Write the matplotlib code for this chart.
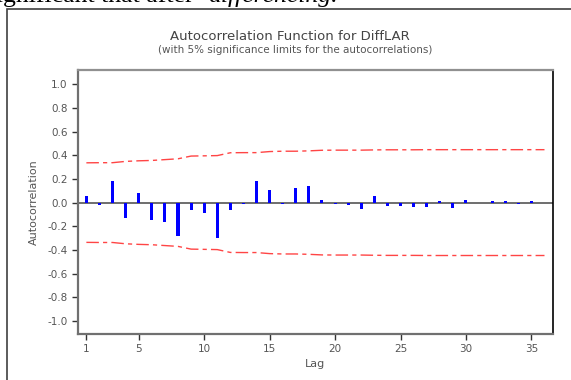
import matplotlib
matplotlib.use('Agg')
import matplotlib.pyplot as plt
from matplotlib.patches import Rectangle

# ACF values, lags 1..36
lags = list(range(1, 37))
acf = [0.054, -0.02, 0.18, -0.13, 0.08, -0.15, -0.16, -0.28, -0.06, -0.09,
       -0.295, -0.066, -0.012, 0.18, 0.105, -0.015, 0.12, 0.14, 0.02, -0.01,
       -0.02, -0.055, 0.055, -0.03, -0.025, -0.04, -0.04, 0.01, -0.045, 0.02,
       -0.005, 0.01, 0.01, -0.01, 0.012, -0.005]
# 5% significance limits (upper; lower is the mirror)
limit = [0.336, 0.337, 0.337, 0.348, 0.353, 0.356, 0.363, 0.370, 0.393, 0.395,
         0.397, 0.421, 0.422, 0.422, 0.431, 0.434, 0.434, 0.437, 0.442, 0.443,
         0.443, 0.443, 0.445, 0.446, 0.446, 0.446, 0.447, 0.447, 0.447, 0.447,
         0.447, 0.447, 0.447, 0.447, 0.447, 0.447]
xticks = [1, 5, 10, 15, 20, 25, 30, 35]
yticks = [-1.0, -0.8, -0.6, -0.4, -0.2, 0.0, 0.2, 0.4, 0.6, 0.8, 1.0]

W, H = 571, 380
fig = plt.figure(figsize=(W / 100, H / 100), dpi=100)
plt.rcParams['font.family'] = ['DejaVu Sans']

# outer frame of the pasted chart
fig.patches.append(Rectangle((7 / W, -0.1), 1.2, 1 - 9 / H + 0.1, transform=fig.transFigure,
                             fill=False, edgecolor='#404040', linewidth=1.2))

# clipped line of document text above the chart
fig.text(-0.025, 1 - 2 / H, 'significant that after ', family='Liberation Serif',
         fontsize=18.5, va='baseline', ha='left', color='black')
fig.text(208 / W, 1 - 2 / H, 'differencing.', family='Liberation Serif', style='italic',
         fontsize=18.5, va='baseline', ha='left', color='black')

ax = fig.add_axes([78 / W, 1 - 334 / H, (553 - 78) / W, (334 - 70) / H])
ax.bar(lags, acf, width=0.23, color='#0000ff', zorder=3)
ax.axhline(0, color='#555555', linewidth=1.2, zorder=2)
upper = limit
lower = [-v for v in limit]
ax.plot(lags, upper, color='#ff4545', linewidth=1, dashes=(9, 3, 3, 3))
ax.plot(lags, lower, color='#ff4545', linewidth=1, dashes=(9, 3, 3, 3))

ax.set_xlim(0.36, 36.65)
ax.set_ylim(-1.11, 1.12)
ax.set_xticks(xticks)
ax.set_yticks(yticks)
ax.set_yticklabels(['%.1f' % v for v in yticks])
ax.tick_params(direction='out', length=4, width=1, color='#333333',
               labelcolor='#555555', labelsize=7.5)

for s in ['left', 'bottom']:
    ax.spines[s].set_color('#707070')
    ax.spines[s].set_linewidth(1.6)
ax.spines['top'].set_color('#909090')
ax.spines['top'].set_linewidth(1.6)
ax.spines['right'].set_color('black')
ax.spines['right'].set_linewidth(1.2)

ax.set_xlabel('Lag', fontsize=8, color='#555555', labelpad=3)
ax.set_ylabel('Autocorrelation', fontsize=8, color='#555555', labelpad=6)

fig.text(290 / W, 1 - 37 / H, 'Autocorrelation Function for DiffLAR', ha='center',
         va='center', fontsize=9.5, color='#444444')
fig.text(295 / W, 1 - 50 / H, '(with 5% significance limits for the autocorrelations)',
         ha='center', va='center', fontsize=7.5, color='#555555')

fig.savefig('out.png', dpi=100)
